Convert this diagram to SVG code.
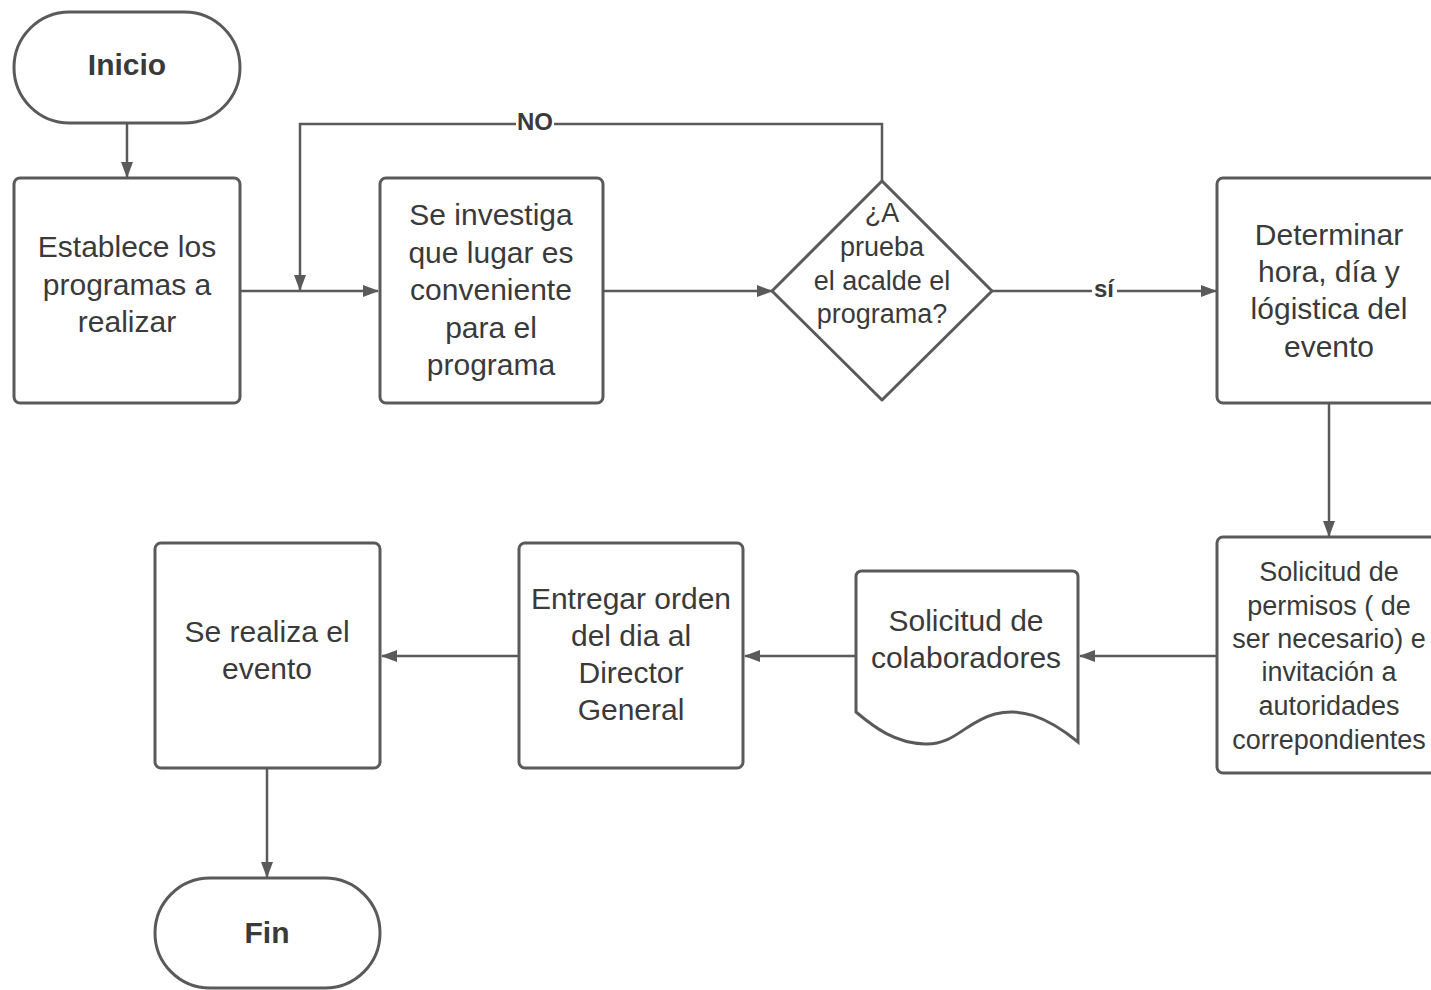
<svg xmlns="http://www.w3.org/2000/svg" width="1431" height="990" viewBox="0 0 1431 990">
<style>
.shape{fill:#fff;stroke:#5a5a5a;stroke-width:3}
.t{font-family:"Liberation Sans",Arial,sans-serif;font-size:30px;fill:#3a3a3a;text-anchor:middle}
.s{font-size:27px}
.b{font-weight:bold}
.c{fill:none;stroke:#5a5a5a;stroke-width:2.5}
.lbl{font-family:"Liberation Sans",Arial,sans-serif;font-size:24px;font-weight:bold;fill:#3a3a3a;text-anchor:middle}
</style>
<defs>
<marker id="ah" markerWidth="16" markerHeight="14" refX="15" refY="7" orient="auto" markerUnits="userSpaceOnUse">
<path d="M0,1 L16,7 L0,13 Z" fill="#5a5a5a"/>
</marker>
</defs>
<rect width="1431" height="990" fill="#fff"/>
<g id="connectors">
<path class="c" d="M127,123 V177" marker-end="url(#ah)"/>
<path class="c" d="M240,291 H378" marker-end="url(#ah)"/>
<path class="c" d="M882,181 V124 H300 V290" marker-end="url(#ah)"/>
<path class="c" d="M603,291 H772" marker-end="url(#ah)"/>
<path class="c" d="M992,291 H1216" marker-end="url(#ah)"/>
<path class="c" d="M1329,403 V536" marker-end="url(#ah)"/>
<path class="c" d="M1217,656 H1080" marker-end="url(#ah)"/>
<path class="c" d="M856,656 H745" marker-end="url(#ah)"/>
<path class="c" d="M519,656 H382" marker-end="url(#ah)"/>
<path class="c" d="M267,768 V877" marker-end="url(#ah)"/>
<rect x="516" y="110" width="38" height="26" fill="#fff"/>
<text class="lbl" x="535" y="130">NO</text>
<rect x="1092" y="276" width="25" height="26" fill="#fff"/>
<text class="lbl" x="1104" y="297">sí</text>
</g>
<g id="inicio">
<rect class="shape" x="14" y="12" width="226" height="111" rx="55.5"/>
<text class="t b" x="127" y="75">Inicio</text>
</g>
<g id="establece">
<rect class="shape" x="14" y="178" width="226" height="225" rx="6"/>
<text class="t" x="127" y="257">Establece los</text>
<text class="t" x="127" y="295">programas a</text>
<text class="t" x="127" y="332">realizar</text>
</g>
<g id="investiga">
<rect class="shape" x="380" y="178" width="223" height="225" rx="6"/>
<text class="t" x="491" y="225">Se investiga</text>
<text class="t" x="491" y="263">que lugar es</text>
<text class="t" x="491" y="300">conveniente</text>
<text class="t" x="491" y="338">para el</text>
<text class="t" x="491" y="375">programa</text>
</g>
<g id="decision">
<path class="shape" d="M882,181 L992,291 L882,400 L772,291 Z" stroke-linejoin="round"/>
<text class="t s" x="882" y="222">¿A</text>
<text class="t s" x="882" y="256">prueba</text>
<text class="t s" x="882" y="290">el acalde el</text>
<text class="t s" x="882" y="323">programa?</text>
</g>
<g id="determinar">
<rect class="shape" x="1217" y="178" width="230" height="225" rx="6"/>
<text class="t" x="1329" y="245">Determinar</text>
<text class="t" x="1329" y="282">hora, día y</text>
<text class="t" x="1329" y="319">lógistica del</text>
<text class="t" x="1329" y="357">evento</text>
</g>
<g id="permisos">
<rect class="shape" x="1217" y="537" width="230" height="236" rx="6"/>
<text class="t s" x="1329" y="581">Solicitud de</text>
<text class="t s" x="1329" y="615">permisos ( de</text>
<text class="t s" x="1329" y="648">ser necesario) e</text>
<text class="t s" x="1329" y="681">invitación a</text>
<text class="t s" x="1329" y="715">autoridades</text>
<text class="t s" x="1329" y="749">correpondientes</text>
</g>
<g id="colaboradores">
<path class="shape" d="M856,577 Q856,571 862,571 L1072,571 Q1078,571 1078,577 L1078,742 C1045,715 1020,708 995,714 C965,722 955,745 925,744 C895,743 875,728 856,712 Z"/>
<text class="t" x="966" y="631">Solicitud de</text>
<text class="t" x="966" y="668">colaboradores</text>
</g>
<g id="entregar">
<rect class="shape" x="519" y="543" width="224" height="225" rx="6"/>
<text class="t" x="631" y="609">Entregar orden</text>
<text class="t" x="631" y="646">del dia al</text>
<text class="t" x="631" y="683">Director</text>
<text class="t" x="631" y="720">General</text>
</g>
<g id="realiza">
<rect class="shape" x="155" y="543" width="225" height="225" rx="6"/>
<text class="t" x="267" y="642">Se realiza el</text>
<text class="t" x="267" y="679">evento</text>
</g>
<g id="fin">
<rect class="shape" x="155" y="878" width="225" height="110" rx="55"/>
<text class="t b" x="267" y="943">Fin</text>
</g>
</svg>
